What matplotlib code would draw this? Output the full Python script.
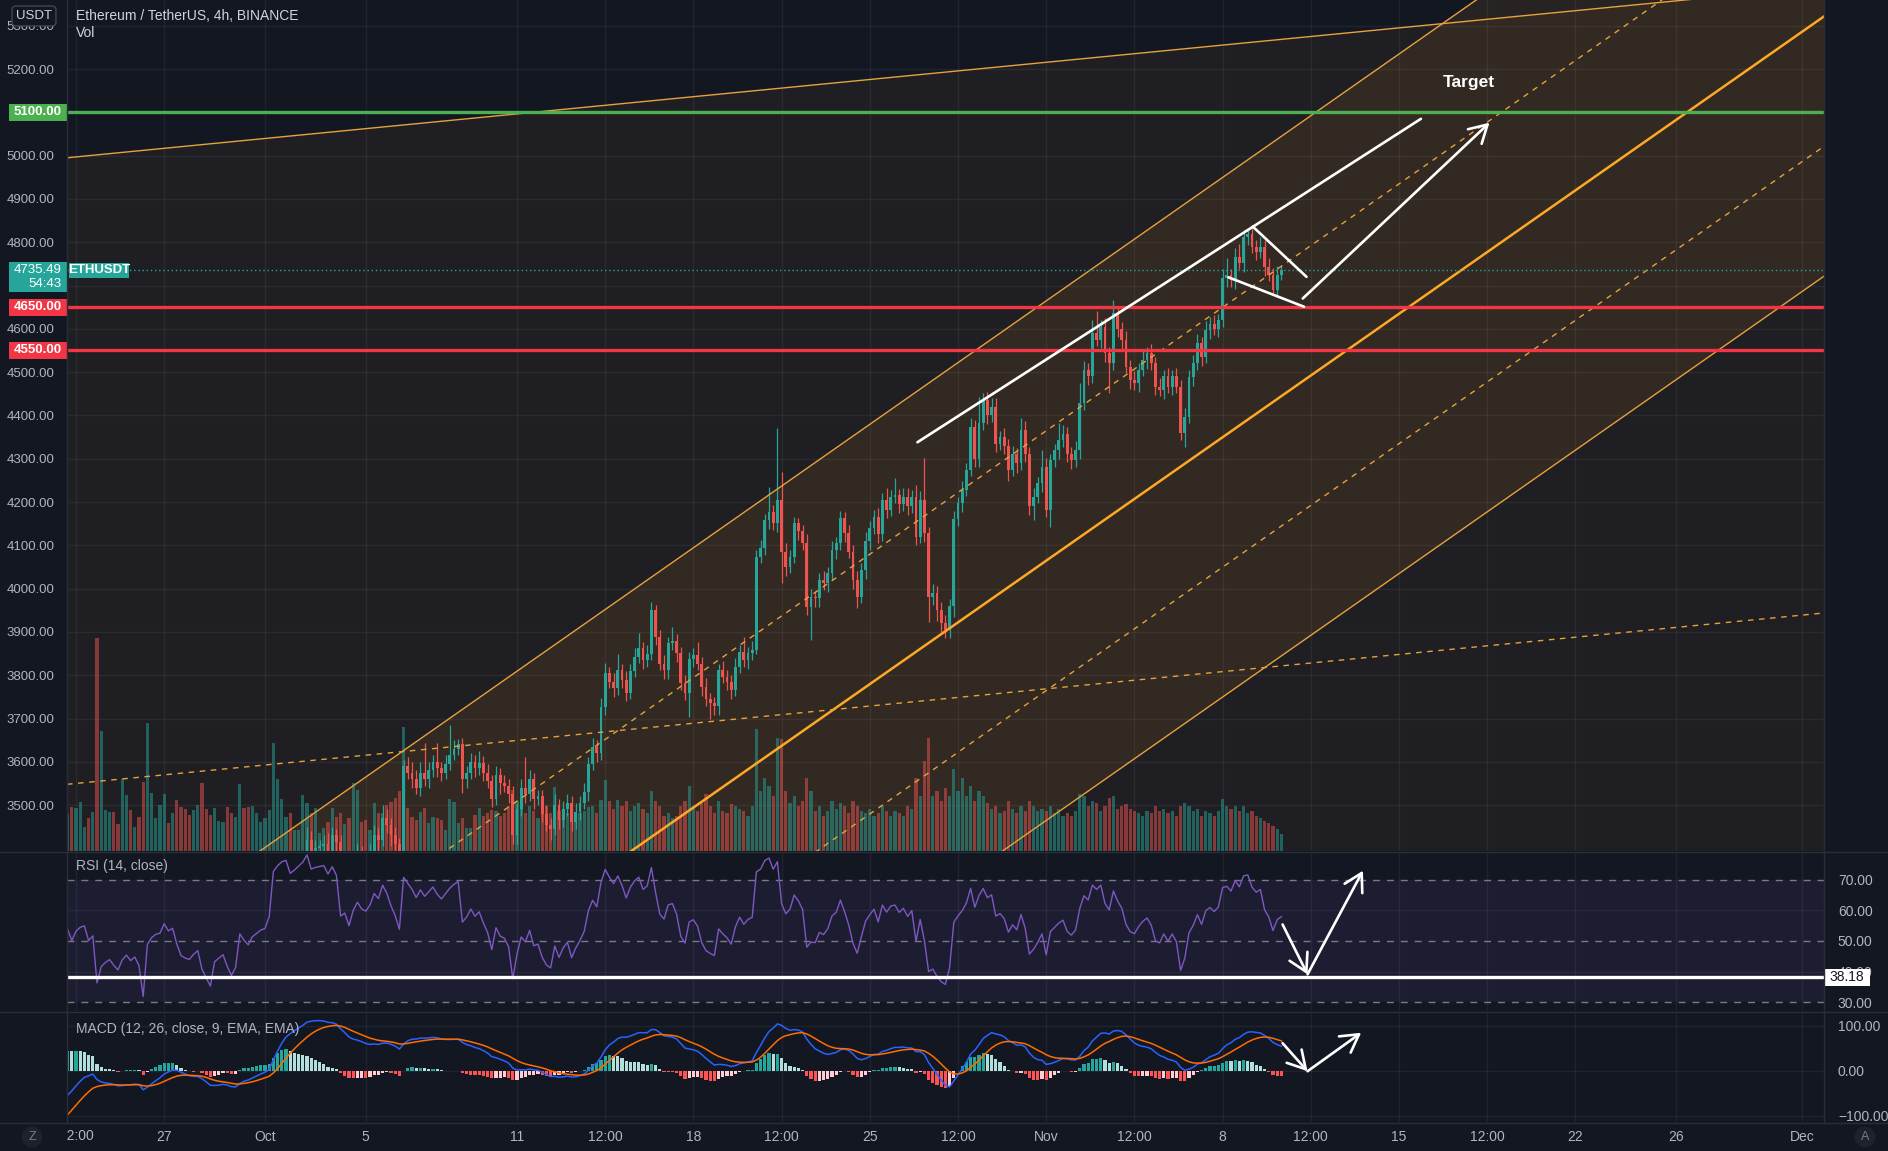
import numpy as np
import pandas as pd
import matplotlib
matplotlib.use("Agg")
import matplotlib.pyplot as plt
import matplotlib.transforms as mtransforms
from matplotlib.lines import Line2D
from matplotlib.patches import Rectangle
from matplotlib.ticker import FuncFormatter, FixedLocator

plt.rcParams['font.family'] = ['Liberation Sans', 'DejaVu Sans']

# ---------------- data (4h ETHUSDT candles, Sep 18 00:00 .. Nov 10 08:00) ----------------
first_open = 3440
close = [
    3430, 3470, 3490, 3480, 3460, 3435,   # Sep 18
    3410, 3400, 3380, 3360, 3340, 3330,   # Sep 19
    3250, 3170, 3080, 3010, 2970, 2980,   # Sep 20
    3010, 2950, 2880, 2810, 2760, 2765,   # Sep 21
    2850, 2920, 2960, 3010, 3050, 3080,   # Sep 22
    3120, 3140, 3100, 3135, 3150, 3155,   # Sep 23
    3110, 3125, 2930, 2985, 3000, 3010,   # Sep 24
    2985, 2965, 2995, 3010, 2990, 3000,   # Sep 25
    2970, 2830, 3010, 3040, 3055, 3060,   # Sep 26
    3100, 3075, 3085, 3030, 2985, 2975,   # Sep 27
    2970, 2985, 2995, 2930, 2895, 2860,   # Sep 28
    2925, 2935, 2945, 2905, 2870, 2890,   # Sep 29
    2990, 2970, 2955, 2980, 2990, 3000,   # Sep 30
    3005, 3040, 3250, 3290, 3320, 3330,   # Oct 1
    3300, 3320, 3345, 3370, 3420, 3390,   # Oct 2
    3400, 3405, 3410, 3395, 3430, 3415,   # Oct 3
    3330, 3340, 3310, 3360, 3390, 3375,   # Oct 4
    3370, 3390, 3430, 3420, 3470, 3455,   # Oct 5
    3430, 3410, 3380, 3590, 3575, 3560,   # Oct 6
    3540, 3575, 3560, 3580, 3600, 3585,   # Oct 7
    3575, 3595, 3615, 3630, 3640, 3560,   # Oct 8
    3575, 3600, 3585, 3598, 3575, 3555,   # Oct 9
    3515, 3570, 3550, 3545, 3525, 3430,   # Oct 10
    3490, 3540, 3525, 3560, 3515, 3520,   # Oct 11
    3480, 3455, 3445, 3500, 3465, 3490,   # Oct 12
    3505, 3460, 3485, 3505, 3530, 3596,   # Oct 13
    3635, 3620, 3727, 3804, 3785, 3770,   # Oct 14
    3812, 3790, 3760, 3810, 3843, 3862,   # Oct 15
    3835, 3850, 3950, 3889, 3827, 3812,   # Oct 16
    3874, 3880, 3851, 3781, 3758, 3838,   # Oct 17
    3847, 3827, 3773, 3745, 3735, 3728,   # Oct 18
    3812, 3797, 3785, 3766, 3820, 3854,   # Oct 19
    3835, 3851, 3858, 4074, 4093, 4158,   # Oct 20
    4178, 4151, 4205, 4085, 4050, 4074,   # Oct 21
    4151, 4132, 4105, 3958, 3980, 3978,   # Oct 22
    4020, 4012, 4035, 4089, 4105, 4162,   # Oct 23
    4128, 4085, 4020, 3981, 4043, 4110,   # Oct 24
    4140, 4166, 4125, 4205, 4182, 4212,   # Oct 25
    4216, 4195, 4212, 4190, 4212, 4120,   # Oct 26
    4205, 4128, 3981, 3990, 3950, 3920,   # Oct 27
    3905, 3960, 4160, 4197, 4228, 4274,   # Oct 28
    4374, 4300, 4382, 4436, 4400, 4420,   # Oct 29
    4335, 4350, 4330, 4274, 4310, 4290,   # Oct 30
    4366, 4312, 4190, 4212, 4243, 4282,   # Oct 31
    4182, 4297, 4320, 4343, 4358, 4312,   # Nov 1
    4297, 4320, 4428, 4505, 4490, 4590,   # Nov 2
    4575, 4605, 4543, 4520, 4636, 4600,   # Nov 3
    4574, 4512, 4482, 4474, 4505, 4528,   # Nov 4
    4543, 4520, 4466, 4459, 4490, 4466,   # Nov 5
    4490, 4466, 4359, 4397, 4489, 4520,   # Nov 6
    4567, 4535, 4597, 4612, 4600, 4620,   # Nov 7
    4717, 4724, 4712, 4767, 4752, 4813,   # Nov 8
    4818, 4790, 4778, 4790, 4743, 4725,   # Nov 9
    4690, 4725, 4735.49,                  # Nov 10
]
wick_hi = [
    20, 25, 18, 15, 20, 15,  15, 18, 15, 20, 15, 18,  15, 20, 25, 20, 15, 30,
    40, 30, 20, 25, 20, 30,  20, 25, 20, 25, 20, 15,  20, 15, 18, 20, 15, 25,
    15, 20, 25, 30, 20, 15,  20, 15, 25, 20, 15, 20,  15, 20, 30, 25, 20, 15,
    30, 20, 25, 20, 15, 20,  15, 20, 25, 15, 20, 15,  20, 25, 15, 20, 15, 20,
    25, 20, 15, 20, 15, 20,                                            # Sep 30
    15, 25, 30, 20, 25, 15,  20, 15, 20, 25, 30, 20,  20, 15, 20, 25, 20, 15,
    15, 20, 15, 25, 20, 15,  15, 20, 25, 20, 30, 20,  15, 20, 15, 15, 20, 25,
    20, 25, 68, 20, 15, 43,  15, 20, 70, 20, 12, 15,  15, 20, 15, 26, 15, 20,
    15, 20, 15, 20, 15, 20,  15, 20, 71, 20, 15, 15,  15, 20, 15, 25, 15, 20,
    20, 15, 20, 15, 20, 15,  20, 15, 20, 25, 15, 20,  38, 15, 20, 15, 20, 35,
    15, 20, 20, 12, 15, 20,  15, 32, 15, 15, 20, 15,  15, 30, 15, 20, 15, 15,
    15, 20, 15, 15, 20, 15,  35, 15, 20, 15, 20, 15,  57, 15, 165, 64, 20, 15,
    15, 11, 15, 20, 20, 15,  15, 20, 15, 20, 15, 18,  15, 20, 15, 20, 15, 20,
    15, 16, 20, 15, 27, 15,  39, 15, 20, 20, 15, 28,  20, 96, 15, 20, 15, 20,
    20, 15, 20, 15, 20, 15,  20, 15, 61, 15, 19, 20,  20, 15, 20, 15, 20, 15,
    27, 20, 15, 20, 15, 38,                                            # Oct 31
    20, 15, 15, 39, 20, 15,  15, 20, 46, 20, 15, 30,  50, 15, 20, 15, 31, 15,
    15, 20, 15, 20, 15, 20,  15, 23, 15, 20, 15, 20,  15, 19, 15, 20, 15, 20,
    20, 15, 20, 15, 20, 15,  20, 39, 15, 20, 30, 15,  15, 18, 15, 23, 15, 20,
    15, 19, 10,
]
wick_lo = [
    18, 15, 20, 22, 20, 25,  25, 20, 22, 20, 25, 20,  40, 50, 60, 45, 40, 30,
    30, 40, 45, 50, 60, 40,  30, 20, 25, 20, 15, 20,  15, 20, 25, 15, 20, 15,
    20, 15, 60, 30, 25, 20,  25, 20, 15, 20, 25, 15,  30, 60, 20, 25, 15, 20,
    20, 25, 20, 15, 25, 20,  20, 15, 20, 25, 20, 30,  25, 20, 15, 20, 30, 15,
    15, 25, 20, 15, 20, 15,                                            # Sep 30
    20, 15, 25, 20, 15, 20,  25, 15, 20, 15, 20, 25,  20, 15, 25, 20, 15, 20,
    40, 20, 30, 15, 20, 15,  20, 15, 20, 25, 15, 20,  25, 20, 30, 10, 15, 20,
    15, 20, 15, 20, 15, 20,  20, 15, 15, 10, 15, 33,  20, 15, 20, 15, 20, 15,
    20, 15, 25, 15, 20, 20,  20, 15, 20, 15, 25, 15,  20, 15, 25, 15, 20, 15,
    15, 20, 15, 20, 15, 20,  15, 20, 15, 20, 15, 20,  15, 20, 20, 15, 15, 15,
    20, 15, 15, 20, 15, 20,  20, 15, 20, 15, 15, 54,  20, 15, 20, 15, 35, 20,
    20, 15, 20, 20, 15, 15,  15, 20, 15, 10, 15, 15,  20, 15, 20, 72, 20, 15,
    15, 20, 15, 20, 77, 20,  20, 15, 20, 15, 20, 15,  20, 15, 20, 25, 15, 20,
    20, 15, 20, 15, 20, 15,  15, 20, 15, 20, 15, 20,  15, 20, 57, 20, 25, 20,
    19, 20, 25, 15, 20, 15,  15, 20, 20, 15, 20, 15,  20, 15, 20, 25, 15, 24,
    15, 20, 20, 32, 15, 20,                                            # Oct 31
    16, 39, 15, 20, 15, 20,  20, 15, 20, 15, 20, 15,  15, 20, 20, 69, 15, 20,
    20, 15, 20, 15, 20, 15,  20, 15, 20, 15, 20, 15,  20, 15, 16, 31, 15, 20,
    15, 20, 15, 20, 15, 20,  15, 20, 15, 20, 15, 20,  20, 15, 20, 15, 20, 15,
    12, 15, 12,
]
volume_k = [
    90, 85, 80, 95, 100, 90,     80, 70, 75, 85, 90, 95,      180, 220, 260, 240, 200, 160,
    150, 170, 210, 230, 250, 180, 170, 140, 120, 130, 120, 110, 90, 87, 103, 101, 115, 56,
    78, 92, 501, 282, 96, 92,    92, 63, 169, 132, 96, 56,    80, 162, 301, 136, 78, 108,
    134, 66, 89, 120, 103, 99,   85, 96, 108, 160, 99, 85,    101, 71, 68, 103, 89, 80,
    157, 101, 103, 106, 89, 68,                                                   # Sep 30
    78, 96, 254, 169, 122, 80,   89, 49, 49, 132, 113, 89,    101, 42, 54, 68, 101, 80,
    89, 63, 78, 160, 143, 68,    73, 49, 113, 89, 89, 108,    115, 125, 141, 291, 101, 80,
    73, 92, 101, 66, 80, 78,     73, 49, 122, 115, 66, 78,    54, 54, 85, 101, 82, 89,
    96, 94, 82, 89, 106, 143,    118, 99, 89, 106, 94, 78,    99, 106, 89, 150, 94, 82,
    89, 99, 78, 89, 94, 103,     106, 89, 120, 167, 118, 99,  120, 106, 118, 94, 106, 113,
    99, 89, 141, 118, 106, 82,   89, 78, 82, 106, 118, 153,   106, 94, 113, 134, 106, 89,
    118, 94, 89, 110, 106, 99,   94, 82, 106, 287, 141, 172,  153, 129, 266, 263, 141, 113,
    129, 106, 118, 172, 141, 94, 106, 82, 94, 118, 99, 113,   106, 89, 118, 106, 94, 89,
    99, 82, 89, 106, 94, 82,     94, 89, 82, 106, 99, 172,    129, 212, 266, 129, 141, 118,
    148, 129, 193, 141, 172, 129, 153, 118, 141, 129, 113, 99, 106, 89, 94, 118, 99, 89,
    106, 94, 118, 106, 94, 99,                                                    # Oct 31
    94, 106, 89, 99, 82, 89,     82, 94, 134, 129, 106, 118,  113, 94, 106, 125, 129, 99,
    106, 110, 99, 94, 89, 82,    94, 89, 106, 94, 99, 89,     94, 82, 106, 113, 106, 94,
    99, 82, 94, 89, 82, 94,      122, 106, 99, 106, 94, 106,  89, 94, 82, 78, 71, 66,
    59, 52, 40,
]
first_candle_day = -13.0          # Sep 18 00:00, in days from Oct 1 00:00
candles_per_day = 6

# horizontal levels & drawings
level_green = 5100.0
levels_red = [4650.0, 4550.0]
last_price = 4735.49
countdown = '54:43'
rsi_level = 38.18
steep_anchor_d, steep_anchor_p = [4.96, 14.88], [3604.0, 4008.0]
steep_offsets = [0, -300, -600, -900, -1200]
shallow_anchor_d, shallow_anchor_p = [-7.857, 56.1], [4995.0, 5358.0]
shallow_offsets = [0, -1447, -2894]
wedge_d, wedge_p = [25.89, 45.87], [4338.0, 5085.0]
flag_top_d, flag_top_p = [39.2, 41.33], [4836.0, 4720.0]
flag_bot_d, flag_bot_p = [38.23, 41.23], [4719.0, 4651.0]
target_arrow_d, target_arrow_p = [41.18, 48.59], [4670.0, 5076.0]
target_text_d, target_text_p = 47.78, 5168.0
rsi_arrow_d, rsi_arrow_v = [40.38, 41.37, 43.57], [55.4, 39.1, 73.0]
macd_arrow_d, macd_arrow_v = [40.38, 41.37, 43.5], [60.9, -1.4, 84.0]

tick_days = [-7.5, -4, 0, 4, 10, 13.5, 17, 20.5, 24, 27.5, 31, 34.5, 38, 41.5, 45, 48.5, 52, 56, 61]
tick_labels = ['12:00', '27', 'Oct', '5', '11', '12:00', '18', '12:00', '25', '12:00', 'Nov',
               '12:00', '8', '12:00', '15', '12:00', '22', '26', 'Dec']
price_ticks = list(range(3500, 5301, 100))
covered_price_ticks = [5100, 4700]     # hidden under the tag boxes

# ---------------- derived series ----------------
n = min(len(close), len(wick_hi), len(wick_lo), len(volume_k))
close = np.array(close[:n], dtype=float)
opens = np.concatenate([[first_open], close[:-1]])
hi = np.maximum(opens, close) + np.array(wick_hi[:n], dtype=float)
lo = np.minimum(opens, close) - np.array(wick_lo[:n], dtype=float)
vol = np.array(volume_k[:n], dtype=float)
x = first_candle_day + np.arange(n) / candles_per_day


def rsi_calc(c, length=14):
    d = np.diff(c)
    up = np.where(d > 0, d, 0.0)
    dn = np.where(d < 0, -d, 0.0)
    out = np.full(len(c), np.nan)
    ag, al = up[:length].mean(), dn[:length].mean()
    out[length] = 100 - 100 / (1 + ag / al)
    for i in range(length + 1, len(c)):
        ag = (ag * (length - 1) + up[i - 1]) / length
        al = (al * (length - 1) + dn[i - 1]) / length
        out[i] = 100.0 if al == 0 else 100 - 100 / (1 + ag / al)
    return out


rsi = rsi_calc(close)
s = pd.Series(close)
macd = (s.ewm(span=12, adjust=False).mean() - s.ewm(span=26, adjust=False).mean()).values
signal = pd.Series(macd).ewm(span=9, adjust=False).mean().values
hist = macd - signal
hist_cols = []
for i, h in enumerate(hist):
    prev = hist[i - 1] if i > 0 else h
    if h >= 0:
        hist_cols.append('#26a69a' if h > prev else '#b2dfdb')
    else:
        hist_cols.append('#ffcdd2' if h > prev else '#ff5252')

# ---------------- figure ----------------
W, H = 1888, 1151
BG = '#131722'
TXT = '#b2b5be'
GRID_A = 0.055
ORANGE = '#ffa726'
UP, DN = '#26a69a', '#ef5350'
XL = (-7.857, 61.865)
YL = (3394.0, 5359.4)
PANE_W = 1824 - 67

fig = plt.figure(figsize=(W / 100, H / 100), dpi=100, facecolor=BG)


def rect(x0, y0, x1, y1):
    return [x0 / W, 1 - y1 / H, (x1 - x0) / W, (y1 - y0) / H]


ax_bg = fig.add_axes(rect(67, 0, 1824, 851))
axv = fig.add_axes(rect(67, 0, 1824, 851))
ax = fig.add_axes(rect(67, 0, 1824, 851))
axr = fig.add_axes(rect(67, 852, 1824, 1011))
axm = fig.add_axes(rect(67, 1012, 1824, 1122))

for a in (ax_bg, axv, ax, axr, axm):
    a.set_xlim(*XL)
    for sp in a.spines.values():
        sp.set_visible(False)
ax_bg.set_facecolor(BG)
axr.set_facecolor(BG)
axm.set_facecolor(BG)
axv.patch.set_visible(False)
ax.patch.set_visible(False)

ax_bg.set_ylim(*YL)
ax.set_ylim(*YL)
axv.set_ylim(0, 2000)
for a in (axv, ax):
    a.set_xticks([])
    a.set_yticks([])

# background axis: grid + channel fills + left price labels
ax_bg.xaxis.set_major_locator(FixedLocator(tick_days))
ax_bg.set_yticks(price_ticks)
ax_bg.yaxis.set_major_formatter(FuncFormatter(
    lambda v, p: '' if round(v) in covered_price_ticks else f'{v:.2f}'))
ax_bg.tick_params(axis='y', length=0, pad=9, labelcolor=TXT, labelsize=9.5)
ax_bg.tick_params(axis='x', length=0, labelbottom=False)
ax_bg.grid(True, color='white', alpha=GRID_A, lw=1)

xs = np.array(XL)


def line_fn(ad, ap):
    slope = (ap[1] - ap[0]) / (ad[1] - ad[0])
    return lambda d: ap[0] + slope * (np.asarray(d) - ad[0])


steep = line_fn(steep_anchor_d, steep_anchor_p)
shallow = line_fn(shallow_anchor_d, shallow_anchor_p)
ax_bg.fill_between(xs, shallow(xs) + shallow_offsets[-1], shallow(xs) + shallow_offsets[0],
                   color=ORANGE, alpha=0.055, lw=0)
ax_bg.fill_between(xs, steep(xs) + steep_offsets[-1], steep(xs) + steep_offsets[0],
                   color=ORANGE, alpha=0.085, lw=0)

# volumes
vcols = [(0.149, 0.651, 0.604, 0.5) if c >= o else (0.937, 0.325, 0.314, 0.5) for o, c in zip(opens, close)]
axv.bar(x, vol, width=0.125, color=vcols, lw=0)

# candles
ccols = [UP if c >= o else DN for o, c in zip(opens, close)]
ax.vlines(x, lo, hi, colors=ccols, lw=0.9, zorder=3)
ax.bar(x, np.maximum(np.abs(close - opens), 1.5), bottom=np.minimum(opens, close),
       width=0.115, color=ccols, lw=0, zorder=4)

# channel lines
sty = {0: dict(lw=1.0, ls='-'), -300: dict(lw=1.0, ls=(0, (4, 4))), -600: dict(lw=1.8, ls='-'),
       -900: dict(lw=1.0, ls=(0, (4, 4))), -1200: dict(lw=1.0, ls='-')}
for off in steep_offsets:
    ax.plot(xs, steep(xs) + off, color=ORANGE if off == -600 else '#e6a23c', zorder=5, **sty[off])
ax.plot(xs, shallow(xs) + shallow_offsets[0], color='#e6a23c', lw=1.0, zorder=5)
ax.plot(xs, shallow(xs) + shallow_offsets[1], color='#e6a23c', lw=1.0, ls=(0, (4, 4)), zorder=5)

# horizontal levels
ax.axhline(level_green, color='#4caf50', lw=2.4, zorder=6)
for lv in levels_red:
    ax.axhline(lv, color='#f23645', lw=2.4, zorder=6)
ax.axhline(last_price, color=UP, lw=1.0, ls=(0, (1, 2)), zorder=6)

# white drawings
wkw = dict(color='white', lw=1.9, zorder=8, solid_capstyle='round')
ax.plot(wedge_d, wedge_p, **wkw)
ax.plot(flag_top_d, flag_top_p, **wkw)
ax.plot(flag_bot_d, flag_bot_p, **wkw)
arrow_kw = dict(arrowstyle='->,head_length=0.7,head_width=0.4', color='white', lw=1.9,
                mutation_scale=18, shrinkA=0, shrinkB=0)
ax.annotate('', xy=(target_arrow_d[1], target_arrow_p[1]), xytext=(target_arrow_d[0], target_arrow_p[0]),
            arrowprops=arrow_kw, zorder=8)
ax.text(target_text_d, target_text_p, 'Target', color='white', fontsize=12.5, fontweight='bold',
        ha='center', va='center', zorder=8)

# left price tags (boxes sized in pixels, placed at the price through the axis transform)
tl = mtransforms.blended_transform_factory(ax.transAxes, ax.transData)
px_per_price = 851.0 / (YL[1] - YL[0])


def px2frac(px):
    return px / PANE_W


def left_tag(price, text, fc):
    hh = 17 / px_per_price
    ax.add_patch(Rectangle((px2frac(-58), price - hh / 2), px2frac(58), hh, transform=tl,
                           fc=fc, ec='none', zorder=19, clip_on=False))
    ax.text(px2frac(-5), price, text, transform=tl, ha='right', va='center', fontsize=9.5,
            color='white', fontweight='bold', zorder=20, clip_on=False)


left_tag(level_green, f'{level_green:.2f}', '#4caf50')
for lv in levels_red:
    left_tag(lv, f'{lv:.2f}', '#f23645')

top = last_price + 8 / px_per_price
hh = 30 / px_per_price
ax.add_patch(Rectangle((px2frac(-58), top - hh), px2frac(58), hh, transform=tl,
                       fc=UP, ec='none', zorder=19, clip_on=False))
ax.text(px2frac(-5), last_price, f'{last_price:.2f}', transform=tl, ha='right', va='center',
        fontsize=9.5, color='white', zorder=20, clip_on=False)
ax.text(px2frac(-5), last_price - 14 / px_per_price, countdown, transform=tl, ha='right', va='center',
        fontsize=9.5, color='white', zorder=20, clip_on=False)
hh2 = 15 / px_per_price
ax.add_patch(Rectangle((px2frac(2), last_price - hh2 / 2), px2frac(60), hh2, transform=tl,
                       fc=UP, ec='none', zorder=19, clip_on=False))
ax.text(px2frac(32), last_price, 'ETHUSDT', transform=tl, ha='center', va='center', fontsize=9.5,
        color='white', fontweight='bold', zorder=20)

# ---------------- RSI pane ----------------
axr.set_ylim(27.1, 79.1)
axr.axhspan(30, 70, color='#7e57c2', alpha=0.1, lw=0)
for lv in (70, 50, 30):
    axr.axhline(lv, color='#787b86', lw=1, ls=(0, (5, 5)))
for lv in (40, 60):
    axr.axhline(lv, color='white', alpha=GRID_A, lw=1)
axr.xaxis.set_major_locator(FixedLocator(tick_days))
axr.grid(True, axis='x', color='white', alpha=GRID_A, lw=1)
axr.plot(x, rsi, color='#7e57c2', lw=1.0, zorder=3)
axr.axhline(rsi_level, color='white', lw=2.4, zorder=4)
for i in range(2):
    axr.annotate('', xy=(rsi_arrow_d[i + 1], rsi_arrow_v[i + 1]), xytext=(rsi_arrow_d[i], rsi_arrow_v[i]),
                 arrowprops=arrow_kw, zorder=8)
axr.yaxis.tick_right()
axr.set_yticks([30, 40, 50, 60, 70])
axr.yaxis.set_major_formatter(FuncFormatter(lambda v, p: f'{v:.2f}'))
axr.tick_params(axis='y', length=0, pad=10, labelcolor=TXT, labelsize=10)
axr.tick_params(axis='x', length=0, labelbottom=False)
tr = mtransforms.blended_transform_factory(axr.transAxes, axr.transData)
rpx = 159.0 / (79.1 - 27.1)
axr.add_patch(Rectangle((1.0, rsi_level - 8.5 / rpx), px2frac(46), 17 / rpx, transform=tr,
                        fc='white', ec='none', zorder=19, clip_on=False))
axr.text(1.0 + px2frac(23), rsi_level, f'{rsi_level:.2f}', transform=tr, ha='center', va='center',
         fontsize=10, color='#131722', zorder=20, clip_on=False)
axr.text(0.005, 0.91, 'RSI (14, close)', transform=axr.transAxes, color=TXT, fontsize=10, va='center')

# ---------------- MACD pane ----------------
axm.set_ylim(-114, 130)
for lv in (100, 0, -100):
    axm.axhline(lv, color='white', alpha=GRID_A, lw=1)
axm.xaxis.set_major_locator(FixedLocator(tick_days))
axm.grid(True, axis='x', color='white', alpha=GRID_A, lw=1)
axm.bar(x, hist, width=0.125, color=hist_cols, lw=0, zorder=2)
axm.plot(x, macd, color='#2962ff', lw=1.1, zorder=3)
axm.plot(x, signal, color='#ff6d00', lw=1.1, zorder=3)
for i in range(2):
    axm.annotate('', xy=(macd_arrow_d[i + 1], macd_arrow_v[i + 1]), xytext=(macd_arrow_d[i], macd_arrow_v[i]),
                 arrowprops=arrow_kw, zorder=8)
axm.yaxis.tick_right()
axm.set_yticks([-100, 0, 100])
axm.yaxis.set_major_formatter(FuncFormatter(lambda v, p: f'{v:.2f}'.replace('-', '\u2212')))
axm.tick_params(axis='y', length=0, pad=10, labelcolor=TXT, labelsize=10)
axm.set_xticks(tick_days[1:])
axm.set_xticklabels(tick_labels[1:])
axm.tick_params(axis='x', length=0, pad=5.5, labelcolor=TXT, labelsize=10)
axm.text(0.005, 0.85, 'MACD (12, 26, close, 9, EMA, EMA)', transform=axm.transAxes, color=TXT,
         fontsize=10, va='center')

# first (clipped) time label
first_lbl = fig.text((265 + 25.2 * tick_days[0]) / W, 1 - 1136 / H, tick_labels[0], color=TXT,
                     fontsize=10, ha='center', va='center')
first_lbl.set_clip_path(Rectangle((67 / W, 0), 1, 1, transform=fig.transFigure))

# ---------------- frame / decorations ----------------
for yy in (851.5, 1011.5, 1122.5):
    fig.add_artist(Line2D([0, 1], [1 - yy / H] * 2, transform=fig.transFigure, color='#2a2e39', lw=1))
for xx in (67, 1824):
    fig.add_artist(Line2D([xx / W] * 2, [1 - 1122.5 / H, 1], transform=fig.transFigure, color='#2a2e39', lw=1))

fig.text(76 / W, 1 - 16 / H, 'Ethereum / TetherUS, 4h, BINANCE', color='#d1d4dc', fontsize=10, va='center')
fig.text(76 / W, 1 - 33 / H, 'Vol', color='#d1d4dc', fontsize=10, va='center')
fig.text(34 / W, 1 - 16 / H, 'USDT', color='#d1d4dc', fontsize=9.5, ha='center', va='center',
         bbox=dict(boxstyle='round,pad=0.3,rounding_size=0.3', fc=BG, ec='#434651', lw=1), zorder=30)
fig.text(32 / W, 1 - 1137 / H, 'Z', color='#787b86', fontsize=9, ha='center', va='center',
         bbox=dict(boxstyle='circle,pad=0.35', fc='#1e222d', ec='none'))
fig.text(1865 / W, 1 - 1137 / H, 'A', color='#787b86', fontsize=9, ha='center', va='center',
         bbox=dict(boxstyle='circle,pad=0.35', fc='#1e222d', ec='none'))

fig.savefig('out.png', dpi=100, facecolor=BG)
